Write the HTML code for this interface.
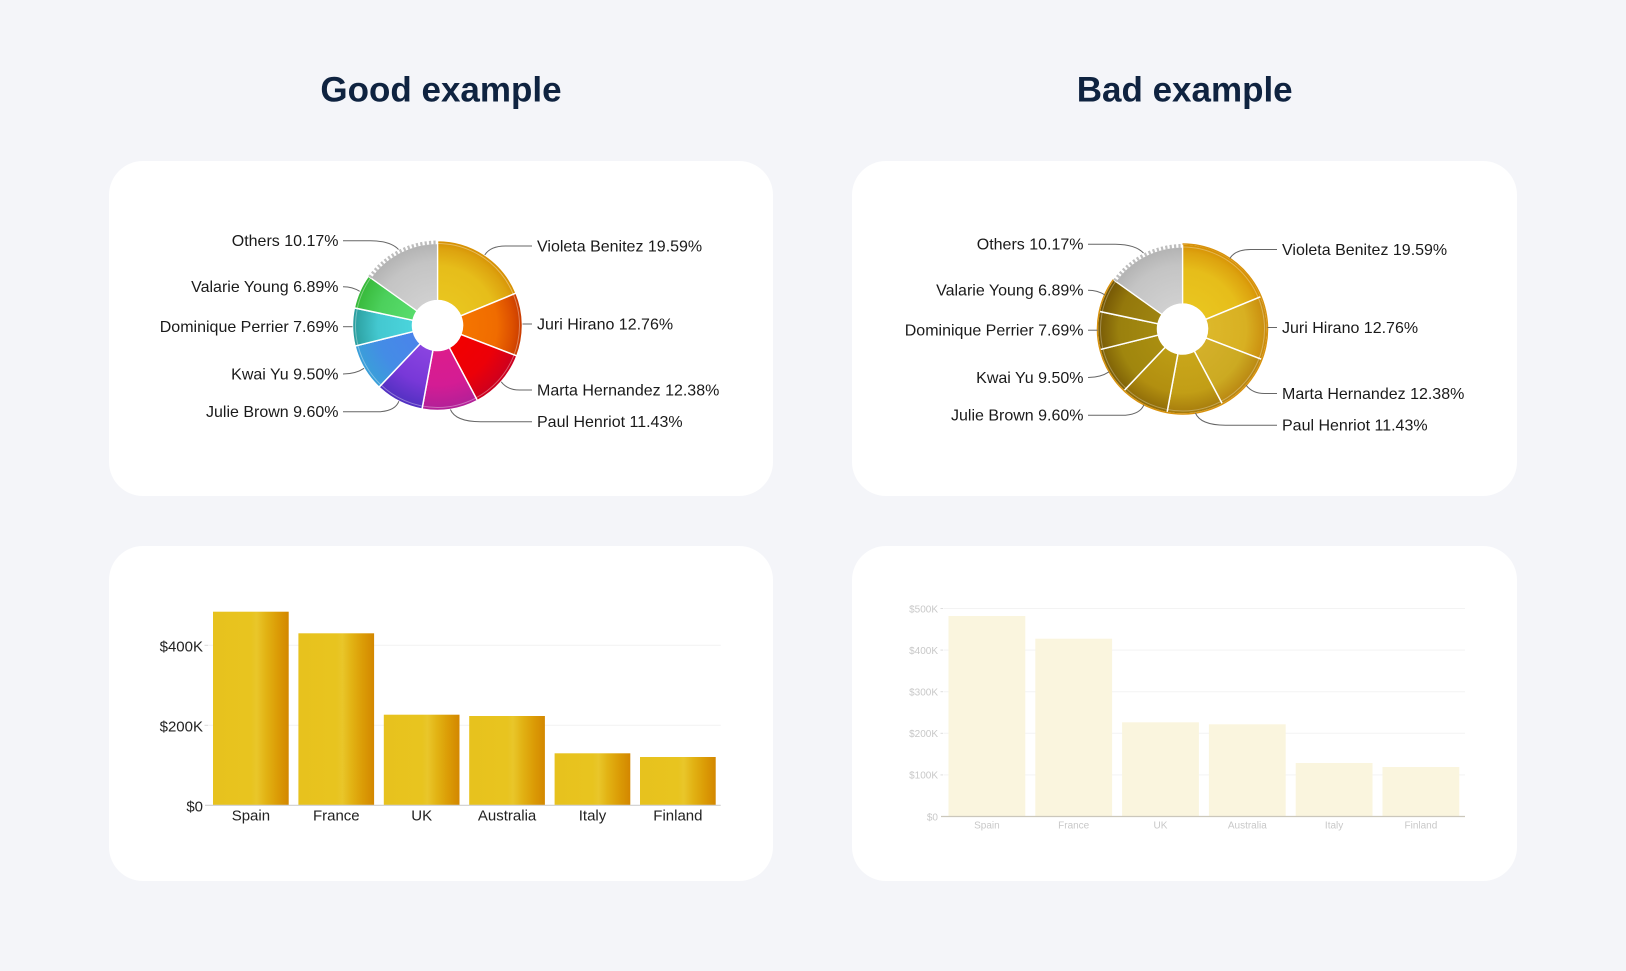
<!DOCTYPE html>
<html>
<head>
<meta charset="utf-8">
<style>
html,body{margin:0;padding:0;background:#f4f5f9;}
svg{display:block;}
text{font-family:"Liberation Sans",Arial,sans-serif;}
</style>
</head>
<body>
<svg width="1626" height="971" viewBox="0 0 1626 971" xmlns="http://www.w3.org/2000/svg">
<defs>
  <linearGradient id="barG" x1="0" y1="0" x2="1" y2="0">
    <stop offset="0" stop-color="#e7c21e"/>
    <stop offset="0.5" stop-color="#e8c41f"/>
    <stop offset="0.58" stop-color="#e9c62a"/>
    <stop offset="0.7" stop-color="#e2b314"/>
    <stop offset="0.85" stop-color="#db9c06"/>
    <stop offset="1" stop-color="#d38700"/>
  </linearGradient>
  <radialGradient id="gV" gradientUnits="userSpaceOnUse" cx="0" cy="0" r="85"><stop offset="0.3" stop-color="#e9c51f"/><stop offset="0.7" stop-color="#e6bd1a"/><stop offset="0.9" stop-color="#dda30f"/><stop offset="1" stop-color="#d68e02"/></radialGradient>
  <radialGradient id="gJ" gradientUnits="userSpaceOnUse" cx="0" cy="0" r="85"><stop offset="0.3" stop-color="#f57500"/><stop offset="0.7" stop-color="#f06c00"/><stop offset="0.88" stop-color="#dd5000"/><stop offset="1" stop-color="#c83a00"/></radialGradient>
  <radialGradient id="gM" gradientUnits="userSpaceOnUse" cx="0" cy="0" r="85"><stop offset="0.3" stop-color="#f20000"/><stop offset="0.7" stop-color="#ec0008"/><stop offset="0.9" stop-color="#d60018"/><stop offset="1" stop-color="#c80020"/></radialGradient>
  <radialGradient id="gP" gradientUnits="userSpaceOnUse" cx="0" cy="0" r="85"><stop offset="0.3" stop-color="#dc1c8c"/><stop offset="0.7" stop-color="#d41c94"/><stop offset="1" stop-color="#b02098"/></radialGradient>
  <radialGradient id="gJu" gradientUnits="userSpaceOnUse" cx="0" cy="0" r="85"><stop offset="0.3" stop-color="#8a44e0"/><stop offset="0.7" stop-color="#7838d8"/><stop offset="1" stop-color="#5030c0"/></radialGradient>
  <radialGradient id="gK" gradientUnits="userSpaceOnUse" cx="0" cy="0" r="85"><stop offset="0.3" stop-color="#4a84ea"/><stop offset="0.7" stop-color="#448ce6"/><stop offset="1" stop-color="#3aa0d8"/></radialGradient>
  <radialGradient id="gD" gradientUnits="userSpaceOnUse" cx="0" cy="0" r="85"><stop offset="0.3" stop-color="#4ad4dc"/><stop offset="0.7" stop-color="#44c8d0"/><stop offset="1" stop-color="#2a9c9c"/></radialGradient>
  <radialGradient id="gVa" gradientUnits="userSpaceOnUse" cx="0" cy="0" r="85"><stop offset="0.3" stop-color="#58dc6c"/><stop offset="0.7" stop-color="#4cd05c"/><stop offset="1" stop-color="#36b838"/></radialGradient>
  <radialGradient id="gO" gradientUnits="userSpaceOnUse" cx="0" cy="0" r="85"><stop offset="0.3" stop-color="#d0d0d0"/><stop offset="0.75" stop-color="#c4c4c4"/><stop offset="1" stop-color="#b0b0b0"/></radialGradient>

  <radialGradient id="bJ" gradientUnits="userSpaceOnUse" cx="0" cy="0" r="85"><stop offset="0.3" stop-color="#ddb82a"/><stop offset="0.75" stop-color="#d8b022"/><stop offset="1" stop-color="#c98a0c"/></radialGradient>
  <radialGradient id="bM" gradientUnits="userSpaceOnUse" cx="0" cy="0" r="85"><stop offset="0.3" stop-color="#d4b02a"/><stop offset="0.75" stop-color="#ccaa22"/><stop offset="1" stop-color="#b88410"/></radialGradient>
  <radialGradient id="bP" gradientUnits="userSpaceOnUse" cx="0" cy="0" r="85"><stop offset="0.3" stop-color="#c9a61a"/><stop offset="0.75" stop-color="#c29e16"/><stop offset="1" stop-color="#a57a0c"/></radialGradient>
  <radialGradient id="bJu" gradientUnits="userSpaceOnUse" cx="0" cy="0" r="85"><stop offset="0.3" stop-color="#bc9c14"/><stop offset="0.75" stop-color="#b28f10"/><stop offset="1" stop-color="#8e6a08"/></radialGradient>
  <radialGradient id="bK" gradientUnits="userSpaceOnUse" cx="0" cy="0" r="85"><stop offset="0.3" stop-color="#aa8e10"/><stop offset="0.75" stop-color="#a0860e"/><stop offset="1" stop-color="#7c5e06"/></radialGradient>
  <radialGradient id="bD" gradientUnits="userSpaceOnUse" cx="0" cy="0" r="85"><stop offset="0.3" stop-color="#a48a10"/><stop offset="0.75" stop-color="#9a800e"/><stop offset="1" stop-color="#765806"/></radialGradient>
  <radialGradient id="bVa" gradientUnits="userSpaceOnUse" cx="0" cy="0" r="85"><stop offset="0.3" stop-color="#9e8410"/><stop offset="0.75" stop-color="#94780c"/><stop offset="1" stop-color="#725404"/></radialGradient>
</defs>

<!-- Titles -->
<text x="441" y="101.7" text-anchor="middle" font-size="35" font-weight="bold" fill="#0f2340">Good example</text>
<text x="1184.7" y="101.7" text-anchor="middle" font-size="35" font-weight="bold" fill="#0f2340">Bad example</text>

<!-- Cards -->
<rect x="109" y="161" width="664" height="335" rx="34" ry="34" fill="#ffffff"/>
<rect x="852" y="161" width="665" height="335" rx="34" ry="34" fill="#ffffff"/>
<rect x="109" y="546" width="664" height="335" rx="34" ry="34" fill="#ffffff"/>
<rect x="852" y="546" width="665" height="335" rx="34" ry="34" fill="#ffffff"/>

<!-- GOOD PIE -->
<g transform="translate(437.5,325.5)">
  <g stroke="#ffffff" stroke-width="1.5" stroke-linejoin="round">
    <path fill="url(#gV)" d="M0,-85 A85,85 0 0 1 78.58,-32.39 L23.11,-9.53 A25,25 0 0 0 0,-25Z"/>
    <path fill="url(#gJ)" d="M78.58,-32.39 A85,85 0 0 1 79.36,30.46 L23.34,8.96 A25,25 0 0 0 23.11,-9.53Z"/>
    <path fill="url(#gM)" d="M79.36,30.46 A85,85 0 0 1 39.91,75.05 L11.74,22.07 A25,25 0 0 0 23.34,8.96Z"/>
    <path fill="url(#gP)" d="M39.91,75.05 A85,85 0 0 1 -15.49,83.58 L-4.56,24.58 A25,25 0 0 0 11.74,22.07Z"/>
    <path fill="url(#gJu)" d="M-15.49,83.58 A85,85 0 0 1 -58.51,61.66 L-17.21,18.14 A25,25 0 0 0 -4.56,24.58Z"/>
    <path fill="url(#gK)" d="M-58.51,61.66 A85,85 0 0 1 -82.48,20.56 L-24.26,6.05 A25,25 0 0 0 -17.21,18.14Z"/>
    <path fill="url(#gD)" d="M-82.48,20.56 A85,85 0 0 1 -83.14,-17.67 L-24.45,-5.20 A25,25 0 0 0 -24.26,6.05Z"/>
    <path fill="url(#gVa)" d="M-83.14,-17.67 A85,85 0 0 1 -69.20,-49.36 L-20.35,-14.52 A25,25 0 0 0 -24.45,-5.20Z"/>
  </g>
  <path fill="url(#gO)" d="M-66.76,-47.62 A82,82 0 0 1 0,-82 L0,-25 A25,25 0 0 0 -20.35,-14.52Z" stroke="#ffffff" stroke-width="1.2"/>
  <path d="M-67.57,-48.20 A83,83 0 0 1 0,-83" fill="none" stroke="#bdbdbd" stroke-width="4" stroke-dasharray="2.2 2.2"/>
  <path d="M0,-82 A82,82 0 1 1 -66.76,-47.62" fill="none" stroke="#ffffff" stroke-opacity="0.35" stroke-width="1"/>
  <g fill="none" stroke="#666" stroke-width="1">
    <path d="M-94.5,-84.8 L-67,-84.8 Q-47,-84.5 -39,-76"/>
    <path d="M-94.5,-38.8 Q-85,-38.8 -77.8,-34.2"/>
    <path d="M-94.5,1.2 L-85,1.2"/>
    <path d="M-94.5,48.5 Q-82,48.5 -73.4,42.8"/>
    <path d="M-94.5,86.2 L-57,86.2 Q-42,85 -38.6,75.7"/>
    <path d="M47.3,-70.6 Q53,-79.5 68,-79.5 L94.5,-79.5"/>
    <path d="M85,-1.5 L94.5,-1.5"/>
    <path d="M63.7,56.3 Q70,64.5 82,64.5 L94.5,64.5"/>
    <path d="M12.9,84 Q18,96.2 43,96.2 L94.5,96.2"/>
  </g>
  <g font-size="16" fill="#1a1a1a">
    <text x="-99" y="-79.3" text-anchor="end">Others 10.17%</text>
    <text x="-99" y="-33.3" text-anchor="end">Valarie Young 6.89%</text>
    <text x="-99" y="6.7" text-anchor="end">Dominique Perrier 7.69%</text>
    <text x="-99" y="54" text-anchor="end">Kwai Yu 9.50%</text>
    <text x="-99" y="91.7" text-anchor="end">Julie Brown 9.60%</text>
    <text x="99.5" y="-74">Violeta Benitez 19.59%</text>
    <text x="99.5" y="4">Juri Hirano 12.76%</text>
    <text x="99.5" y="70">Marta Hernandez 12.38%</text>
    <text x="99.5" y="101.7">Paul Henriot 11.43%</text>
  </g>
</g>

<!-- BAD PIE -->
<g transform="translate(1182.5,329)">
  <g stroke="#ffffff" stroke-width="1.5" stroke-linejoin="round">
    <path fill="url(#gV)" d="M0,-85 A85,85 0 0 1 78.58,-32.39 L23.11,-9.53 A25,25 0 0 0 0,-25Z"/>
    <path fill="url(#bJ)" d="M78.58,-32.39 A85,85 0 0 1 79.36,30.46 L23.34,8.96 A25,25 0 0 0 23.11,-9.53Z"/>
    <path fill="url(#bM)" d="M79.36,30.46 A85,85 0 0 1 39.91,75.05 L11.74,22.07 A25,25 0 0 0 23.34,8.96Z"/>
    <path fill="url(#bP)" d="M39.91,75.05 A85,85 0 0 1 -15.49,83.58 L-4.56,24.58 A25,25 0 0 0 11.74,22.07Z"/>
    <path fill="url(#bJu)" d="M-15.49,83.58 A85,85 0 0 1 -58.51,61.66 L-17.21,18.14 A25,25 0 0 0 -4.56,24.58Z"/>
    <path fill="url(#bK)" d="M-58.51,61.66 A85,85 0 0 1 -82.48,20.56 L-24.26,6.05 A25,25 0 0 0 -17.21,18.14Z"/>
    <path fill="url(#bD)" d="M-82.48,20.56 A85,85 0 0 1 -83.14,-17.67 L-24.45,-5.20 A25,25 0 0 0 -24.26,6.05Z"/>
    <path fill="url(#bVa)" d="M-83.14,-17.67 A85,85 0 0 1 -69.20,-49.36 L-20.35,-14.52 A25,25 0 0 0 -24.45,-5.20Z"/>
  </g>
  <path fill="url(#gO)" d="M-66.76,-47.62 A82,82 0 0 1 0,-82 L0,-25 A25,25 0 0 0 -20.35,-14.52Z" stroke="#ffffff" stroke-width="1.2"/>
  <path d="M-67.57,-48.20 A83,83 0 0 1 0,-83" fill="none" stroke="#bdbdbd" stroke-width="4" stroke-dasharray="2.2 2.2"/>
  <path d="M0,-85 A85,85 0 1 1 -69.20,-49.36" fill="none" stroke="#d8920c" stroke-width="1.5"/>
  <path d="M0,-82 A82,82 0 1 1 -66.76,-47.62" fill="none" stroke="#ffffff" stroke-opacity="0.3" stroke-width="1"/>
  <g fill="none" stroke="#666" stroke-width="1">
    <path d="M-94.5,-84.8 L-67,-84.8 Q-47,-84.5 -39,-76"/>
    <path d="M-94.5,-38.8 Q-85,-38.8 -77.8,-34.2"/>
    <path d="M-94.5,1.2 L-85,1.2"/>
    <path d="M-94.5,48.5 Q-82,48.5 -73.4,42.8"/>
    <path d="M-94.5,86.2 L-57,86.2 Q-42,85 -38.6,75.7"/>
    <path d="M47.3,-70.6 Q53,-79.5 68,-79.5 L94.5,-79.5"/>
    <path d="M85,-1.5 L94.5,-1.5"/>
    <path d="M63.7,56.3 Q70,64.5 82,64.5 L94.5,64.5"/>
    <path d="M12.9,84 Q18,96.2 43,96.2 L94.5,96.2"/>
  </g>
  <g font-size="16" fill="#1a1a1a">
    <text x="-99" y="-79.3" text-anchor="end">Others 10.17%</text>
    <text x="-99" y="-33.3" text-anchor="end">Valarie Young 6.89%</text>
    <text x="-99" y="6.7" text-anchor="end">Dominique Perrier 7.69%</text>
    <text x="-99" y="54" text-anchor="end">Kwai Yu 9.50%</text>
    <text x="-99" y="91.7" text-anchor="end">Julie Brown 9.60%</text>
    <text x="99.5" y="-74">Violeta Benitez 19.59%</text>
    <text x="99.5" y="4">Juri Hirano 12.76%</text>
    <text x="99.5" y="70">Marta Hernandez 12.38%</text>
    <text x="99.5" y="101.7">Paul Henriot 11.43%</text>
  </g>
</g>

<!-- GOOD BAR CHART -->
<g>
  <line x1="208" y1="725.3" x2="720.7" y2="725.3" stroke="#f2f2f2" stroke-width="1"/>
  <line x1="208" y1="645.3" x2="720.7" y2="645.3" stroke="#f2f2f2" stroke-width="1"/>
  <g fill="url(#barG)">
    <rect x="213" y="611.7" width="75.7" height="193.6"/>
    <rect x="298.4" y="633.3" width="75.7" height="172"/>
    <rect x="383.8" y="714.7" width="75.7" height="90.6"/>
    <rect x="469.2" y="716" width="75.7" height="89.3"/>
    <rect x="554.6" y="753.3" width="75.7" height="52"/>
    <rect x="640" y="757" width="75.7" height="48.3"/>
  </g>
  <line x1="205" y1="805.3" x2="720.7" y2="805.3" stroke="#cfcfcf" stroke-width="1.2"/>
  <g stroke="#d8d8d8" stroke-width="1">
    <line x1="204.5" y1="725.3" x2="208" y2="725.3"/>
    <line x1="204.5" y1="645.3" x2="208" y2="645.3"/>
  </g>
  <g font-size="15" fill="#222" text-anchor="end">
    <text x="203" y="811.3">$0</text>
    <text x="203" y="731.3">$200K</text>
    <text x="203" y="651.3">$400K</text>
  </g>
  <g font-size="15" fill="#222" text-anchor="middle">
    <text x="250.9" y="820.5">Spain</text>
    <text x="336.3" y="820.5">France</text>
    <text x="421.7" y="820.5">UK</text>
    <text x="507.1" y="820.5">Australia</text>
    <text x="592.5" y="820.5">Italy</text>
    <text x="677.9" y="820.5">Finland</text>
  </g>
</g>

<!-- BAD BAR CHART -->
<g>
  <g stroke="#f3f3f3" stroke-width="1">
    <line x1="943.5" y1="774.9" x2="1465" y2="774.9"/>
    <line x1="943.5" y1="733.3" x2="1465" y2="733.3"/>
    <line x1="943.5" y1="691.7" x2="1465" y2="691.7"/>
    <line x1="943.5" y1="650.1" x2="1465" y2="650.1"/>
    <line x1="943.5" y1="608.5" x2="1465" y2="608.5"/>
  </g>
  <g fill="#faf5de">
    <rect x="948.5" y="616" width="76.8" height="200.5"/>
    <rect x="1035.3" y="638.7" width="76.8" height="177.8"/>
    <rect x="1122.1" y="722.3" width="76.8" height="94.2"/>
    <rect x="1208.9" y="724.3" width="76.8" height="92.2"/>
    <rect x="1295.7" y="763" width="76.8" height="53.5"/>
    <rect x="1382.5" y="767" width="76.8" height="49.5"/>
  </g>
  <line x1="941" y1="816.5" x2="1465" y2="816.5" stroke="#cbc7bb" stroke-width="1.2"/>
  <g stroke="#dddddd" stroke-width="1">
    <line x1="940.5" y1="774.9" x2="943" y2="774.9"/>
    <line x1="940.5" y1="733.3" x2="943" y2="733.3"/>
    <line x1="940.5" y1="691.7" x2="943" y2="691.7"/>
    <line x1="940.5" y1="650.1" x2="943" y2="650.1"/>
    <line x1="940.5" y1="608.5" x2="943" y2="608.5"/>
  </g>
  <g font-size="10" fill="#c8c8c8" text-anchor="end">
    <text x="938" y="820.3">$0</text>
    <text x="938" y="778.7">$100K</text>
    <text x="938" y="737.1">$200K</text>
    <text x="938" y="695.5">$300K</text>
    <text x="938" y="653.9">$400K</text>
    <text x="938" y="612.3">$500K</text>
  </g>
  <g font-size="10" fill="#c8c8c8" text-anchor="middle">
    <text x="986.9" y="828.5">Spain</text>
    <text x="1073.7" y="828.5">France</text>
    <text x="1160.5" y="828.5">UK</text>
    <text x="1247.3" y="828.5">Australia</text>
    <text x="1334.1" y="828.5">Italy</text>
    <text x="1420.9" y="828.5">Finland</text>
  </g>
</g>
</svg>
</body>
</html>
